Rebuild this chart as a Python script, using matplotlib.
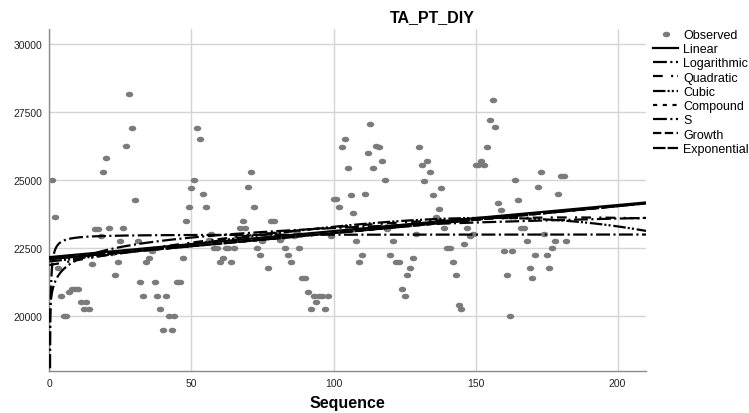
import matplotlib
matplotlib.use("Agg")
import matplotlib.pyplot as plt
import numpy as np
from matplotlib.path import Path

plt.rcParams["font.family"] = ["Liberation Sans", "DejaVu Sans"]
plt.rcParams["lines.scale_dashes"] = False

# ------------------- dati osservati ------------------- #
sequence = np.arange(1, 183)
observed = np.array([
    25000, 23650, 21750, 20750, 20000, 20000, 20900, 21000, 21000, 21000,
    20500, 20250, 20500, 20250, 21900, 23200, 23200, 22950, 25300, 25800,
    23250, 22300, 21500, 22000, 22750, 23250, 26250, 28150, 26900, 24250,
    22750, 21250, 20750, 22000, 22150, 22400, 21250, 20750, 20250, 19500,
    20750, 20000, 19500, 20000, 21250, 21250, 22150, 23500, 24000, 24700,
    25000, 26900, 26500, 24500, 24000, 22800, 23000, 22500, 22500, 22000,
    22150, 22500, 22500, 22000, 22500, 22900, 23250, 23500, 23250, 24750,
    25300, 24000, 22500, 22250, 22750, 23000, 21750, 23500, 23500, 23000,
    22800, 22900, 22500, 22250, 22000, 22950, 23100, 22500, 21400, 21400,
    20900, 20250, 20750, 20500, 20750, 20750, 20250, 20750, 22950, 24300,
    24300, 24000, 26200, 26500, 25450, 24450, 23800, 22750, 22000, 22250,
    24500, 26000, 27050, 25450, 26250, 26200, 25700, 25000, 23200, 22250,
    22750, 22000, 22000, 21000, 20750, 21500, 21750, 22150, 23000, 26200,
    25550, 24950, 25700, 25300, 24450, 23650, 23950, 24700, 23250, 22500,
    22500, 22000, 21500, 20400, 20250, 22650, 23250, 22950, 23000, 25550,
    25550, 25700, 25550, 26200, 27200, 27950, 26950, 24150, 23900, 22400,
    21500, 20000, 22400, 25000, 24250, 23250, 23250, 22750, 21750, 21400,
    22250, 24750, 25300, 23000, 22250, 21750, 22500, 22750, 24500, 25150,
    25150, 22750,
], dtype=float)

x_ticks = [0, 50, 100, 150, 200]
y_ticks = [20000, 22500, 25000, 27500, 30000]

# ------------------- stime dei modelli ------------------- #
t = np.concatenate([np.geomspace(1e-7, 1, 400), np.linspace(1, 210, 900)])
ln_y = np.log(observed)

lin = np.polyfit(sequence, observed, 1)
log_fit = np.polyfit(np.log(sequence), observed, 1)
quad = np.polyfit(sequence, observed, 2)
cub = np.polyfit(sequence, observed, 3)
expo = np.polyfit(sequence, ln_y, 1)          # compound / growth / exponential
s_fit = np.polyfit(1.0 / sequence, ln_y, 1)

models = [
    ("Linear", np.polyval(lin, t), "-"),
    ("Logarithmic", np.polyval(log_fit, np.log(t)), (0, (10, 2.5, 1.5, 2.5))),
    ("Quadratic", np.polyval(quad, t), (0, (7, 6, 1.5, 3))),
    ("Cubic", np.polyval(cub, t), (0, (9, 1.5, 1.5, 1.5, 1.5, 2))),
    ("Compound", np.exp(np.polyval(expo, t)), (0, (3, 4))),
    ("S", np.exp(np.polyval(s_fit, 1.0 / t)), (0, (10, 2.5, 1.5, 2.5))),
    ("Growth", np.exp(np.polyval(expo, t)), (0, (6, 2.5))),
    ("Exponential", np.exp(np.polyval(expo, t)), (0, (9, 1.5))),
]

# ------------------- grafico ------------------- #
fig = plt.figure(figsize=(7.49, 4.14), dpi=100)
ax = fig.add_axes([0.066, 0.1014, 0.7965, 0.826])

# marker ellittico come in SPSS
circ = Path.unit_circle()
ellipse = Path(circ.vertices * [1.0, 0.74], circ.codes)

ax.plot(sequence, observed, linestyle="none", marker=ellipse, markersize=5.4,
        color="#7b7b7b", markeredgewidth=0, label="Observed", zorder=2)

for name, values, style in models:
    ax.plot(t, values, color="black", linestyle=style, linewidth=1.6,
            label=name, zorder=3)

ax.set_xlim(0, 210)
ax.set_ylim(17980, 30550)
ax.set_xticks(x_ticks)
ax.set_yticks(y_ticks)
ax.tick_params(length=0, labelsize=7.5, colors="#222222", pad=5)
ax.grid(True, color="#d4d4d4", linewidth=1)
ax.set_axisbelow(True)
for side in ["top", "right"]:
    ax.spines[side].set_visible(False)
for side in ["left", "bottom"]:
    ax.spines[side].set_color("#8a8a8a")
    ax.spines[side].set_linewidth(1)

ax.set_xlabel("Sequence", fontsize=11.5, fontweight="bold", labelpad=5)
fig.text(0.577, 0.958, "TA_PT_DIY", fontsize=11.5, fontweight="bold",
         ha="center", va="center")

ax.legend(loc="upper left", bbox_to_anchor=(653 / 749, 1 - 30 / 414),
          bbox_transform=fig.transFigure, frameon=False, fontsize=9,
          handlelength=2.0, handletextpad=0.4, labelspacing=0.18,
          borderpad=0, borderaxespad=0, numpoints=1)

fig.savefig("out.png", dpi=100)
plt.close(fig)
